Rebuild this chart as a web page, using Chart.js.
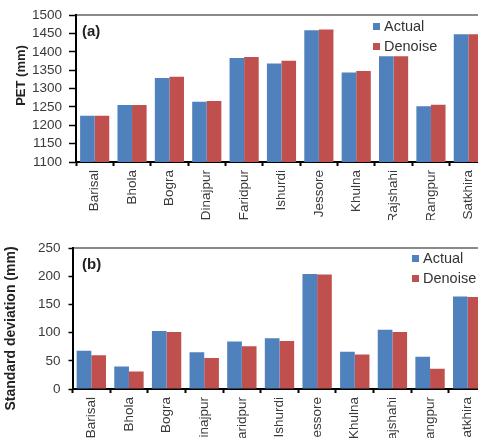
<!DOCTYPE html>
<html>
<head>
<meta charset="utf-8">
<script src="https://cdn.jsdelivr.net/npm/chart.js@4.4.1/dist/chart.umd.min.js"></script>
<style>
html,body{margin:0;padding:0;background:#fff;overflow:hidden;width:478px;height:438px}
canvas{position:absolute;left:0}
#petChart{top:0}
#sdChart{top:220px}
</style>
</head>
<body>
<canvas id="petChart" width="500" height="220"></canvas>
<canvas id="sdChart" width="500" height="230"></canvas>
<script>
// stations
const stations = ['Barisal', 'Bhola', 'Bogra', 'Dinajpur', 'Faridpur', 'Ishurdi', 'Jessore', 'Khulna', 'Rajshahi', 'Rangpur', 'Satkhira']
// (a) PET (mm)
const petActual = [1226, 1255, 1329, 1264, 1383, 1368, 1459, 1344, 1388, 1252, 1448]
const petDenoise = [1226, 1255, 1332, 1266, 1386, 1376, 1461, 1348, 1388, 1256, 1448]
// (b) standard deviation (mm)
const sdActual = [68, 40, 103, 65, 84, 90, 204, 66, 105, 57, 164]
const sdDenoise = [60, 31, 101, 55, 76, 85, 203, 61, 101, 36, 163]
// y axis ticks: min, max, step
const petTicks = [1100, 1500, 50]
const sdTicks = [0, 250, 50]

const fam = "'Liberation Sans', Arial, sans-serif"
Chart.defaults.font.family = fam
Chart.defaults.color = '#333'

const blue = '#4F81BD'
const red = '#C0504D'

// titles, panel letter and legend drawn on top
const extras = {
  id: 'extras',
  afterDraw(chart, args, o) {
    const ctx = chart.ctx
    ctx.save()
    ctx.translate(o.titleX, o.titleY)
    ctx.rotate(-Math.PI / 2)
    ctx.font = 'bold ' + o.titleSize + 'px ' + fam
    ctx.fillStyle = '#222'
    ctx.textAlign = 'center'
    ctx.textBaseline = 'middle'
    ctx.fillText(o.title, 0, 0)
    ctx.restore()

    ctx.save()
    ctx.font = 'bold 15px ' + fam
    ctx.fillStyle = '#222'
    ctx.textAlign = 'left'
    ctx.textBaseline = 'middle'
    ctx.fillText(o.panel, 82, o.panelY)

    ctx.font = '14.5px ' + fam
    chart.data.datasets.forEach(function (ds, i) {
      const y = o.legendY + i * 20
      ctx.fillStyle = ds.backgroundColor
      ctx.fillRect(o.legendX, y - 3.5, 7, 7)
      ctx.fillStyle = '#333'
      ctx.fillText(ds.label, o.legendX + 11, y)
    })
    ctx.restore()
  }
}

function makeChart(id, a, b, ticks, box, tickLen, tickPad, extra) {
  return new Chart(document.getElementById(id), {
    type: 'bar',
    data: {
      labels: stations,
      datasets: [
        { label: 'Actual', data: a, backgroundColor: blue, borderWidth: 0, categoryPercentage: 0.78, barPercentage: 1.0 },
        { label: 'Denoise', data: b, backgroundColor: red, borderWidth: 0, categoryPercentage: 0.78, barPercentage: 1.0 }
      ]
    },
    options: {
      responsive: false,
      animation: false,
      layout: { padding: { left: 0, right: box.right, top: box.top, bottom: 0 } },
      plugins: { legend: { display: false }, tooltip: { enabled: false }, extras: extra },
      scales: {
        x: {
          grid: { offset: true, drawOnChartArea: false, tickLength: 4, tickColor: '#000', tickWidth: 2 },
          border: { color: '#000', width: 2 },
          ticks: { minRotation: 90, maxRotation: 90, autoSkip: false, padding: 4, color: '#3a3a3a', font: { size: 13.5 } },
          afterFit: function (s) { s.height = box.xHeight }
        },
        x2: {
          type: 'category',
          position: 'top',
          grid: { display: false },
          ticks: { display: false },
          border: { color: '#8a8a8a', width: 2 },
          afterFit: function (s) { s.height = 0 }
        },
        y: {
          min: ticks[0],
          max: ticks[1],
          ticks: {
            stepSize: ticks[2], autoSkip: false, padding: tickPad, color: '#3a3a3a', font: { size: 13.5 },
            callback: function (v) { return String(v) }
          },
          grid: { drawOnChartArea: false, tickLength: tickLen, tickColor: '#000', tickWidth: 1.5 },
          border: { color: '#000', width: 2 },
          afterFit: function (s) { s.width = box.left }
        }
      }
    },
    plugins: [extras]
  })
}

makeChart('petChart', petActual, petDenoise, petTicks,
  { left: 76, right: 13, top: 14, xHeight: 58 }, 7, 7,
  { title: 'PET (mm)', titleX: 21, titleY: 75.5, titleSize: 13, panel: '(a)', panelY: 31.5, legendX: 373, legendY: 26.5 })

makeChart('sdChart', sdActual, sdDenoise, sdTicks,
  { left: 72.5, right: 13.5, top: 28, xHeight: 61 }, 4, 8,
  { title: 'Standard deviation (mm)', titleX: 11, titleY: 108.5, titleSize: 14, panel: '(b)', panelY: 45, legendX: 412, legendY: 38.5 })
</script>
</body>
</html>
